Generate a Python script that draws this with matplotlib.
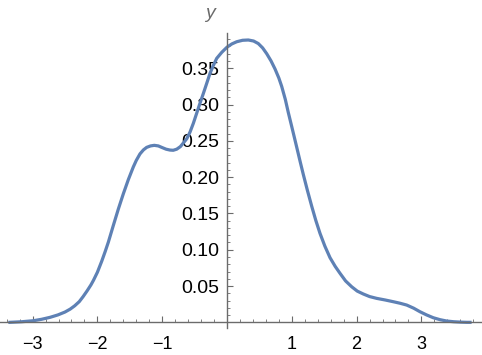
import matplotlib.pyplot as plt
from matplotlib.ticker import FixedLocator

# points
x_pts = [-3.35, -3.17, -2.99, -2.86, -2.73, -2.61, -2.50, -2.42, -2.35, -2.28,
         -2.22, -2.16, -2.10, -2.06, -2.00, -1.934, -1.88, -1.831, -1.754, -1.677,
         -1.600, -1.523, -1.446, -1.40, -1.343, -1.29, -1.240, -1.18, -1.122, -1.06,
         -1.008, -0.94, -0.880, -0.83, -0.776, -0.72, -0.674, -0.62, -0.571, -0.52,
         -0.468, -0.42, -0.366, -0.31, -0.262, -0.21, -0.159, -0.08, 0.0, 0.075,
         0.150, 0.24, 0.329, 0.41, 0.483, 0.55, 0.613, 0.68, 0.741, 0.80,
         0.844, 0.90, 0.946, 0.998, 1.04, 1.075, 1.13, 1.178, 1.24, 1.307,
         1.37, 1.435, 1.51, 1.590, 1.67, 1.744, 1.83, 1.924, 2.01, 2.104,
         2.20, 2.310, 2.44, 2.566, 2.67, 2.773, 2.88, 2.978, 3.08, 3.184,
         3.29, 3.390, 3.50, 3.60, 3.70, 3.75]
y_pts = [0.0, 0.0008, 0.0022, 0.0042, 0.0069, 0.0102, 0.0142, 0.0182, 0.0228, 0.0285,
         0.0355, 0.0432, 0.0515, 0.0580, 0.0690, 0.0840, 0.0975, 0.1105, 0.1335, 0.1560,
         0.1770, 0.1965, 0.2140, 0.2230, 0.2320, 0.2375, 0.2410, 0.2430, 0.2438, 0.2430,
         0.2410, 0.2385, 0.2373, 0.2370, 0.2385, 0.2420, 0.2470, 0.2530, 0.2620, 0.2740,
         0.2880, 0.3010, 0.3150, 0.3300, 0.3430, 0.3540, 0.3636, 0.3720, 0.3790, 0.3835,
         0.3865, 0.3885, 0.3889, 0.3875, 0.3840, 0.3780, 0.3700, 0.3600, 0.3490, 0.3365,
         0.3250, 0.3070, 0.2890, 0.2700, 0.2545, 0.2415, 0.2210, 0.2035, 0.1820, 0.1600,
         0.1405, 0.1226, 0.1050, 0.0890, 0.0770, 0.0675, 0.0570, 0.0490, 0.0430, 0.0390,
         0.0355, 0.0330, 0.0308, 0.0284, 0.0263, 0.0238, 0.0195, 0.0146, 0.0102, 0.0063,
         0.0036, 0.0018, 0.0008, 0.0003, 0.0, 0.0]

x_major = [-3, -2, -1, 1, 2, 3]
x_labels = ['\u22123', '\u22122', '\u22121', '1', '2', '3']
y_major = [0.05, 0.10, 0.15, 0.20, 0.25, 0.30, 0.35]
y_labels = ['0.05', '0.10', '0.15', '0.20', '0.25', '0.30', '0.35']

plt.rcParams['font.family'] = ['Liberation Sans', 'DejaVu Sans']

fig = plt.figure(figsize=(4.82, 3.55), dpi=100)
ax = fig.add_axes([0, 0, 1, 1])
ax.set_xlim(-3.503, 3.935)
ax.set_ylim(-0.045, 0.444)

ax.plot(x_pts, y_pts, color='#5E81B5', lw=2.3, solid_joinstyle='round')

axcol = '#6b6b6b'
for s in ['top', 'right']:
    ax.spines[s].set_visible(False)
ax.spines['left'].set_position(('data', 0))
ax.spines['bottom'].set_position(('data', 0))
ax.spines['left'].set_bounds(-0.008, 0.398)
ax.spines['bottom'].set_bounds(-3.5, 3.93)
for s in ['left', 'bottom']:
    ax.spines[s].set_color(axcol)
    ax.spines[s].set_linewidth(1.0)

ax.xaxis.set_major_locator(FixedLocator(x_major))
ax.xaxis.set_minor_locator(FixedLocator(
    [v / 5 for v in range(-17, 20) if v % 5 != 0]))
ax.yaxis.set_major_locator(FixedLocator(y_major))
ax.yaxis.set_minor_locator(FixedLocator(
    [v / 100 for v in range(1, 40) if v % 5 != 0]))
ax.set_xticklabels(x_labels)
ax.set_yticklabels(y_labels)

ax.tick_params(axis='x', which='major', direction='in', length=4.5, width=0.8,
               color=axcol, labelsize=13, pad=10, labelcolor='black')
ax.tick_params(axis='x', which='minor', direction='in', length=2.5, width=0.6,
               color=axcol)
ax.tick_params(axis='y', which='major', direction='in', length=4.5, width=0.8,
               color=axcol, labelsize=14, pad=5.5, labelcolor='black')
ax.tick_params(axis='y', which='minor', direction='in', length=2.5, width=0.6,
               color=axcol)

fig.text(210 / 482, 1 - 13 / 355, 'y', ha='center', va='center',
         fontsize=14, style='italic', color='#6b6b6b')

fig.savefig('out.png', dpi=100)
